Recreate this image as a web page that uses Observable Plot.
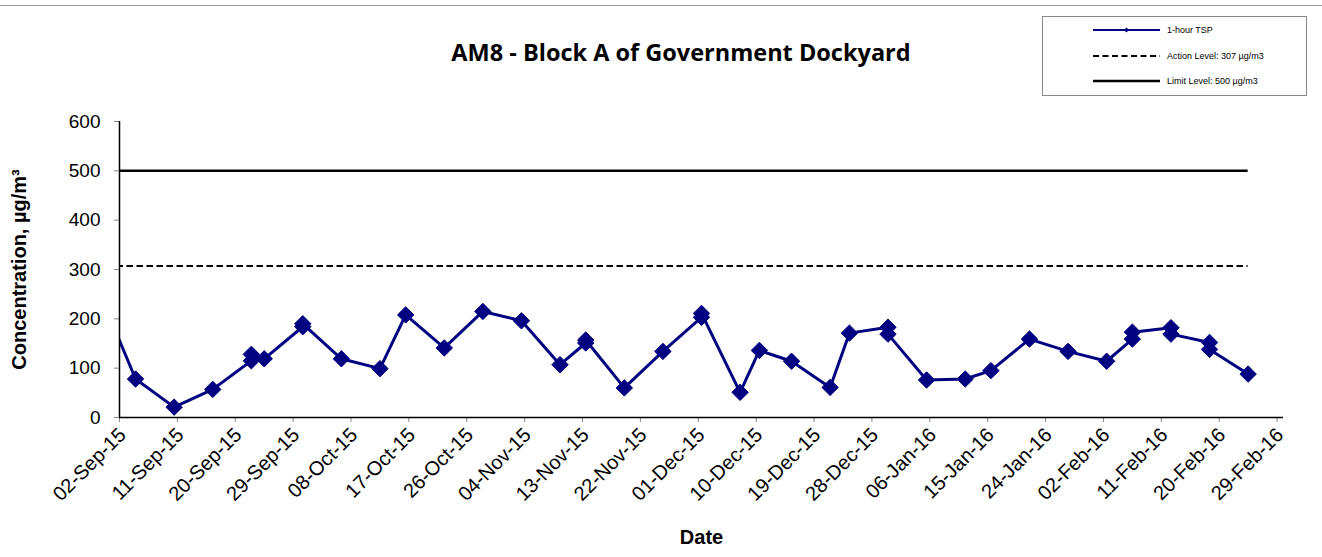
<!DOCTYPE html>
<html><head><meta charset="utf-8">
<script src="https://cdn.jsdelivr.net/npm/d3@7"></script>
<script src="https://cdn.jsdelivr.net/npm/@observablehq/plot@0.6"></script>
<style>
body{margin:0;background:#fff;}
#wrap{position:relative;width:1322px;height:557px;overflow:hidden;background:#fff;font-family:"Liberation Sans",Arial,sans-serif;}
#topline{position:absolute;left:0;top:5px;width:1322px;height:1px;background:#999;}
#title{position:absolute;left:681px;top:37px;transform:translateX(-50%);white-space:nowrap;font-family:"Open Sans",Lato,sans-serif;font-weight:bold;font-size:23.5px;line-height:30px;color:#000;}
#legend{position:absolute;left:1042px;top:16px;}
#chart{position:absolute;left:0;top:0;}
</style></head><body>
<div id="wrap"><div id="chart"></div><div id="topline"></div><div id="title"></div><div id="legend"></div></div>
<script>
const titleText = "AM8 - Block A of Government Dockyard";
const yLabel = "Concentration, µg/m³";
const xLabel = "Date";
const seriesNames = ["1-hour TSP", "Action Level: 307 µg/m3", "Limit Level: 500 µg/m3"];
const actionLevel = 307;
const limitLevel = 500;

const sampleTimes = [
 "2015-08-29T12:00Z","2015-09-04T12:00Z","2015-09-10T12:00Z","2015-09-16T12:00Z","2015-09-22T12:00Z","2015-09-22T12:00Z",
 "2015-09-24T12:00Z","2015-09-30T12:00Z","2015-09-30T12:00Z","2015-10-06T12:00Z","2015-10-12T12:00Z","2015-10-16T12:00Z",
 "2015-10-22T12:00Z","2015-10-28T12:00Z","2015-11-03T12:00Z","2015-11-09T12:00Z","2015-11-13T12:00Z","2015-11-13T12:00Z",
 "2015-11-19T12:00Z","2015-11-25T12:00Z","2015-12-01T12:00Z","2015-12-01T12:00Z","2015-12-07T12:00Z","2015-12-10T12:00Z",
 "2015-12-15T12:00Z","2015-12-21T12:00Z","2015-12-24T12:00Z","2015-12-30T12:00Z","2015-12-30T12:00Z","2016-01-05T12:00Z",
 "2016-01-11T12:00Z","2016-01-15T12:00Z","2016-01-21T12:00Z","2016-01-27T12:00Z","2016-02-02T12:00Z","2016-02-06T12:00Z",
 "2016-02-06T12:00Z","2016-02-12T12:00Z","2016-02-12T12:00Z","2016-02-18T12:00Z","2016-02-18T12:00Z","2016-02-24T12:00Z"
];
const tspValues = [
 265, 78, 21, 57, 115, 128,
 119, 184, 190, 119, 99, 208,
 141, 215, 196, 107, 151, 157,
 60, 134, 203, 211, 51, 136,
 114, 61, 171, 183, 169, 76,
 78, 95, 159, 134, 114, 159,
 173, 182, 169, 152, 138, 88
];
const xTickDates = [
 "2015-09-02","2015-09-11","2015-09-20","2015-09-29","2015-10-08","2015-10-17","2015-10-26",
 "2015-11-04","2015-11-13","2015-11-22","2015-12-01","2015-12-10","2015-12-19","2015-12-28",
 "2016-01-06","2016-01-15","2016-01-24","2016-02-02","2016-02-11","2016-02-20","2016-02-29"
];
const yTicks = [0, 100, 200, 300, 400, 500, 600];
const xDomain = ["2015-09-02", "2016-03-01"];

const data = sampleTimes.map((t, i) => ({date: new Date(t), value: tspValues[i]}));
const firstDate = data[0].date, lastDate = data[data.length - 1].date;
const levels = [
  {y: limitLevel, x1: firstDate, x2: lastDate},
  {y: actionLevel, x1: firstDate, x2: lastDate}
];
const navy = "#000080";
const xTicks = xTickDates.map(d => new Date(d));

const plot = Plot.plot({
  width: 1322, height: 557,
  marginLeft: 119, marginRight: 39, marginTop: 121, marginBottom: 140,
  style: {fontFamily: "'Liberation Sans', Arial, sans-serif", background: "transparent", overflow: "visible"},
  x: {type: "utc", domain: xDomain.map(d => new Date(d))},
  y: {domain: [0, 600]},
  marks: [
    Plot.axisY({ticks: yTicks, tickSize: 5, tickPadding: 14, stroke: "#888", fill: "#000", fontSize: 19, label: null}),
    Plot.axisX({ticks: xTicks, tickSize: 5, text: null, stroke: "#888", label: null}),
    Plot.axisX({ticks: xTicks, tickFormat: d3.utcFormat("%d-%b-%y"), tickSize: 0, tickPadding: 8, tickRotate: -45, fill: "#000", fontSize: 20, dx: 3, dy: 6, label: null}),
    Plot.ruleY([levels[0]], {y: "y", x1: "x1", x2: "x2", stroke: "#000", strokeWidth: 2.5, clip: true}),
    Plot.ruleY([levels[1]], {y: "y", x1: "x1", x2: "x2", stroke: "#000", strokeWidth: 2, strokeDasharray: "6.5,3.5", clip: true}),
    Plot.line(data, {x: "date", y: "value", stroke: navy, strokeWidth: 3, clip: true}),
    Plot.dot(data, {x: "date", y: "value", symbol: "diamond2", r: 7.4, fill: navy, stroke: navy, strokeWidth: 1, clip: true}),
    Plot.ruleY([0], {stroke: "#000", strokeWidth: 1.5}),
    Plot.ruleX([new Date(xDomain[0])], {stroke: "#000", strokeWidth: 1.5}),
    Plot.text([yLabel], {frameAnchor: "left", textAnchor: "middle", lineAnchor: "middle", rotate: -90, dx: -100, fontWeight: "bold", fontSize: 20, fill: "#000"}),
    Plot.text([xLabel], {frameAnchor: "bottom", textAnchor: "middle", lineAnchor: "middle", dy: 120, fontWeight: "bold", fontSize: 20, fill: "#000"})
  ]
});
document.getElementById("chart").appendChild(plot);
document.getElementById("title").textContent = titleText;

// legend
const lg = d3.select("#legend").append("svg").attr("width", 266).attr("height", 81)
  .style("font-family", "'Liberation Sans', Arial, sans-serif");
lg.append("rect").attr("x", 0.5).attr("y", 0.5).attr("width", 264).attr("height", 79)
  .attr("fill", "#fff").attr("stroke", "#888");
const rows = [14, 40, 65];
lg.append("line").attr("x1", 51).attr("x2", 118).attr("y1", rows[0]).attr("y2", rows[0]).attr("stroke", navy).attr("stroke-width", 2);
lg.append("path").attr("d", `M${84.5},${rows[0]-2.5}l2.5,2.5l-2.5,2.5l-2.5,-2.5z`).attr("fill", navy);
lg.append("line").attr("x1", 51).attr("x2", 118).attr("y1", rows[1]).attr("y2", rows[1]).attr("stroke", "#000").attr("stroke-width", 2).attr("stroke-dasharray", "6,3.5");
lg.append("line").attr("x1", 51).attr("x2", 118).attr("y1", rows[2]).attr("y2", rows[2]).attr("stroke", "#000").attr("stroke-width", 2.5);
seriesNames.forEach((n, i) => {
  lg.append("text").attr("x", 125).attr("y", rows[i]).attr("dy", "0.35em").attr("font-size", 9).attr("fill", "#000").text(n);
});
</script>
</body></html>
